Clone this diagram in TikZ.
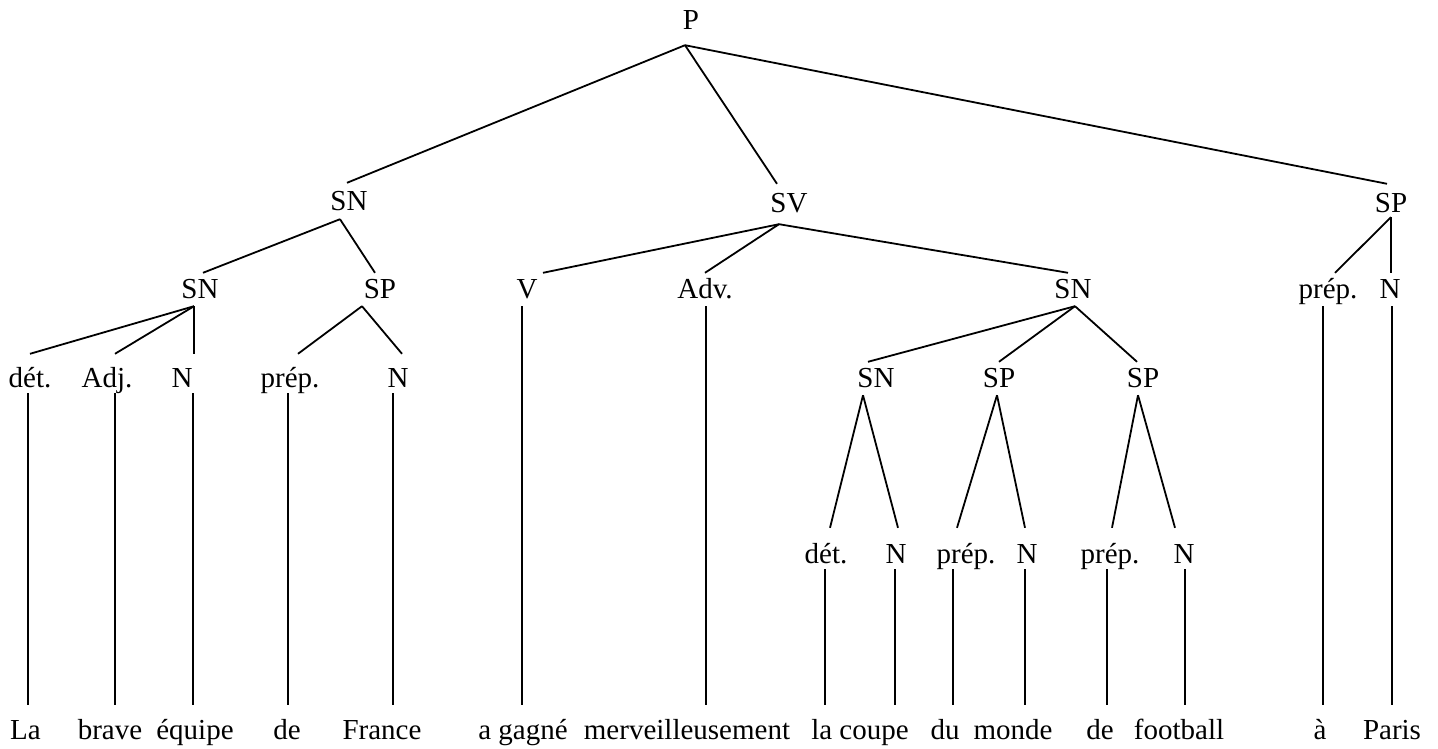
\documentclass[tikz,border=0pt]{standalone}
\usepackage{fontspec}
\setmainfont{Liberation Serif}
\begin{document}
\begin{tikzpicture}[x=1pt,y=-1pt,
  lab/.style={anchor=base,inner sep=0pt,text depth=8pt,text height=26pt,
    font=\fontsize{29pt}{34pt}\selectfont},
  rowa/.style={lab,text height=28pt},
  rowb/.style={lab,text height=25pt},
  rowc/.style={lab,text height=33pt,text depth=6pt},
  rowd/.style={lab,text height=25pt},
  rowe/.style={lab,text height=35pt,text depth=6pt},
  leaf/.style={lab,text height=34pt},
  branch/.style={line width=1.8pt}]
\useasboundingbox (0,0) rectangle (1438,749);

% sentence node
\node[lab,text depth=15pt] (p) at (691,30) {P};

% first level
\node[rowa] (sn1) at (349,211) {SN};
\node[rowa,text depth=12pt] (sv) at (789,212) {SV};
\node[rowa,text depth=5pt] (sp1) at (1391,212) {SP};

% second level
\node[rowb] (sn2) at (200,298) {SN};
\node[rowb] (sp2) at (380,298) {SP};
\node[rowb] (v) at (527,298) {V};
\node[rowb] (adv) at (705,298) {Adv.};
\node[rowb] (sn3) at (1073,298) {SN};
\node[rowb] (prepP) at (1328,298) {prép.};
\node[rowb] (nP) at (1390,298) {N};

% third level
\node[rowc] (det1) at (30,387) {dét.};
\node[rowc] (adj) at (107,387) {Adj.};
\node[rowc] (nA) at (182,387) {N};
\node[rowc] (prepA) at (290,387) {prép.};
\node[rowc] (nB) at (398,387) {N};
\node[rowd] (sn4) at (876,387) {SN};
\node[rowd] (sp3) at (999,387) {SP};
\node[rowd] (sp4) at (1143,387) {SP};

% fourth level
\node[rowe] (det2) at (826,563) {dét.};
\node[rowe] (nC) at (896,563) {N};
\node[rowe] (prepB) at (966,563) {prép.};
\node[rowe] (nD) at (1027,563) {N};
\node[rowe] (prepC) at (1110,563) {prép.};
\node[rowe] (nE) at (1184,563) {N};

% words
\node[leaf] (w1) at (25.5,739) {La};
\node[leaf] (w2) at (110,739) {brave};
\node[leaf] (w3) at (195,739) {équipe};
\node[leaf] (w4) at (287,739) {de};
\node[leaf] (w5) at (382,739) {France};
\node[leaf] (w6) at (523,739) {a gagné};
\node[leaf] (w7) at (687,739) {merveilleusement};
\node[leaf] (w8) at (860,739) {la coupe};
\node[leaf] (w9) at (945,739) {du};
\node[leaf] (w10) at (1013,739) {monde};
\node[leaf] (w11) at (1100,739) {de};
\node[leaf] (w12) at (1179,739) {football};
\node[leaf] (w13) at (1320,739) {à};
\node[leaf] (w14) at (1392,739) {Paris};

% branches
\draw[branch] ([xshift=-6pt]p.south) -- ([xshift=-2pt]sn1.north);
\draw[branch] ([xshift=-6pt]p.south) -- ([xshift=-12pt]sv.north);
\draw[branch] ([xshift=-6pt]p.south) -- ([xshift=-4pt]sp1.north);

\draw[branch] ([xshift=-9pt]sn1.south) -- ([xshift=3pt]sn2.north);
\draw[branch] ([xshift=-9pt]sn1.south) -- ([xshift=-5pt]sp2.north);

\draw[branch] ([xshift=-10pt]sv.south) -- ([xshift=16pt]v.north);
\draw[branch] ([xshift=-10pt]sv.south) -- (adv.north);
\draw[branch] ([xshift=-10pt]sv.south) -- ([xshift=-5pt]sn3.north);

\draw[branch] (sp1.south) -- ([xshift=7pt]prepP.north);
\draw[branch] (sp1.south) -- ([xshift=1pt]nP.north);

\draw[branch] ([xshift=-6pt]sn2.south) -- (det1.north);
\draw[branch] ([xshift=-6pt]sn2.south) -- ([xshift=8pt]adj.north);
\draw[branch] ([xshift=-6pt]sn2.south) -- ([xshift=12pt]nA.north);

\draw[branch] ([xshift=-18pt]sp2.south) -- ([xshift=8pt]prepA.north);
\draw[branch] ([xshift=-18pt]sp2.south) -- ([xshift=4pt]nB.north);

\draw[branch] ([xshift=2pt]sn3.south) -- ([xshift=-8pt]sn4.north);
\draw[branch] ([xshift=2pt]sn3.south) -- (sp3.north);
\draw[branch] ([xshift=2pt]sn3.south) -- ([xshift=-6pt]sp4.north);

\draw[branch] ([xshift=-13pt]sn4.south) -- ([xshift=4pt]det2.north);
\draw[branch] ([xshift=-13pt]sn4.south) -- ([xshift=2pt]nC.north);
\draw[branch] ([xshift=-2pt]sp3.south) -- ([xshift=-9pt]prepB.north);
\draw[branch] ([xshift=-2pt]sp3.south) -- ([xshift=-2pt]nD.north);
\draw[branch] ([xshift=-5pt]sp4.south) -- ([xshift=2pt]prepC.north);
\draw[branch] ([xshift=-5pt]sp4.south) -- ([xshift=-9pt]nE.north);

% lines down to the words
\draw[branch] ([xshift=-2pt]det1.south) -- ([xshift=2.5pt]w1.north);
\draw[branch] ([xshift=8pt]adj.south) -- ([xshift=5pt]w2.north);
\draw[branch] ([xshift=11pt]nA.south) -- ([xshift=-2pt]w3.north);
\draw[branch] ([xshift=-2pt]prepA.south) -- ([xshift=1pt]w4.north);
\draw[branch] ([xshift=-5pt]nB.south) -- ([xshift=11pt]w5.north);
\draw[branch] ([xshift=-5pt]v.south) -- ([xshift=-1pt]w6.north);
\draw[branch] ([xshift=1pt]adv.south) -- ([xshift=19pt]w7.north);
\draw[branch] ([xshift=-1pt]det2.south) -- ([xshift=-35pt]w8.north);
\draw[branch] ([xshift=-1pt]nC.south) -- ([xshift=35pt]w8.north);
\draw[branch] ([xshift=-13pt]prepB.south) -- ([xshift=8pt]w9.north);
\draw[branch] ([xshift=-2pt]nD.south) -- ([xshift=12pt]w10.north);
\draw[branch] ([xshift=-3pt]prepC.south) -- ([xshift=7pt]w11.north);
\draw[branch] ([xshift=1pt]nE.south) -- ([xshift=6pt]w12.north);
\draw[branch] ([xshift=-5pt]prepP.south) -- ([xshift=3pt]w13.north);
\draw[branch] ([xshift=2pt]nP.south) -- (w14.north);
\end{tikzpicture}
\end{document}
